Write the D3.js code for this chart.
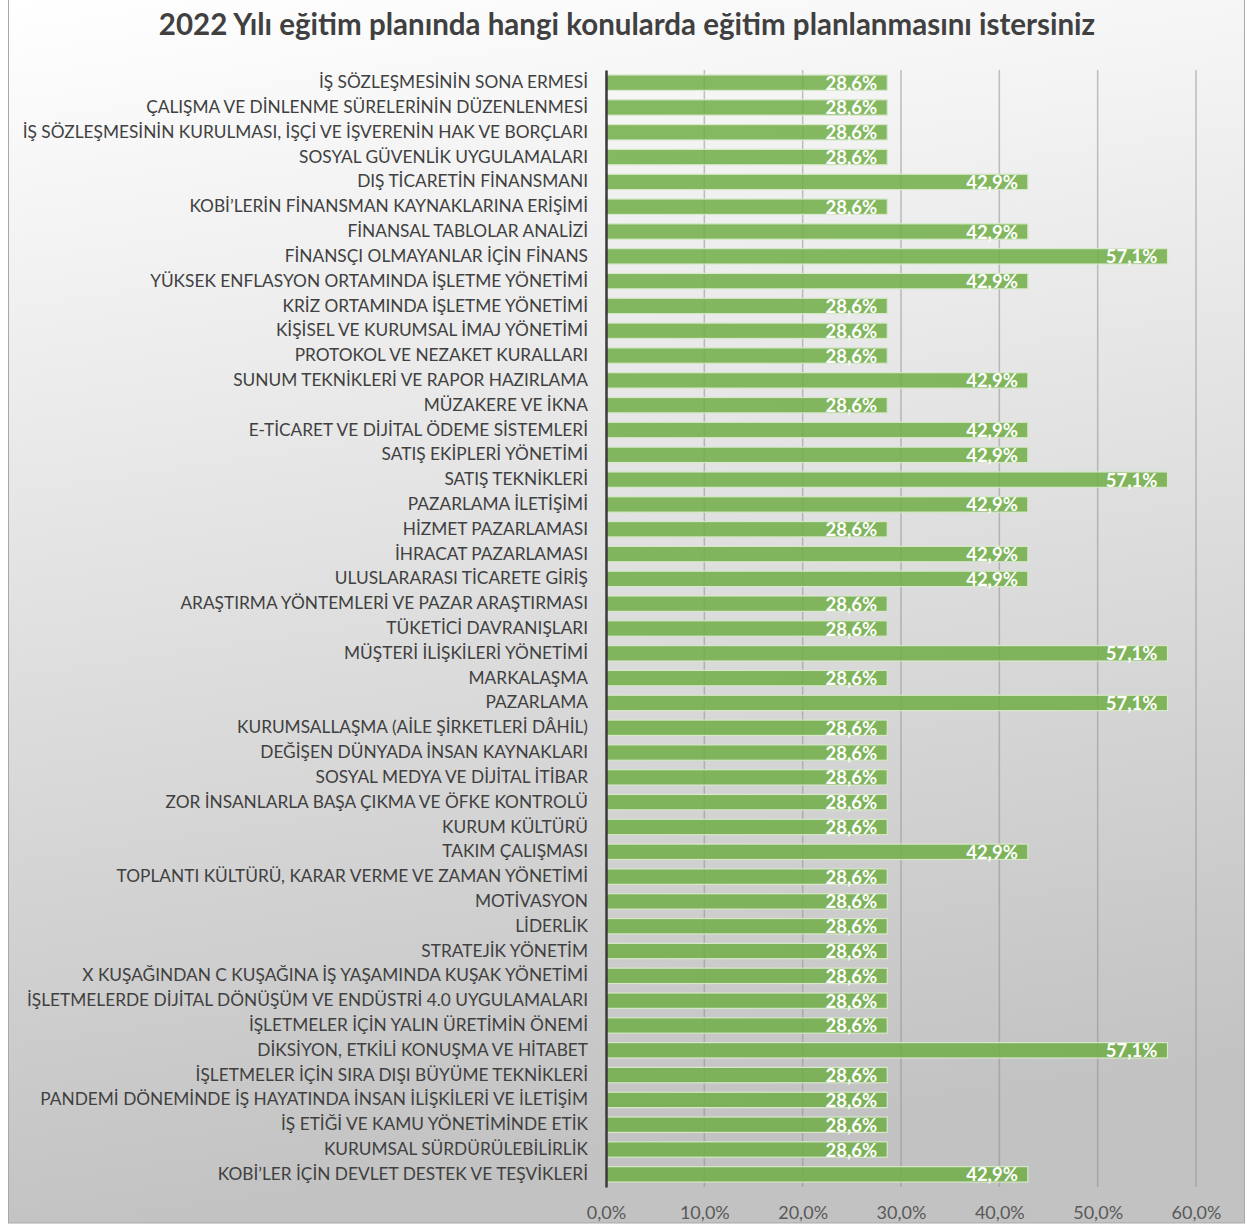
<!DOCTYPE html>
<html>
<head>
<meta charset="utf-8">
<script src="https://cdn.jsdelivr.net/npm/d3@7"></script>
<style>
  body { margin: 0; background: #ffffff; }
  svg text { font-family: Lato, "Open Sans", sans-serif; }
</style>
</head>
<body>
<div id="chart"></div>
<script>
// chart data
const chartTitle = "2022 Yılı eğitim planında hangi konularda eğitim planlanmasını istersiniz";

const categories = [
  "İŞ SÖZLEŞMESİNİN SONA ERMESİ",
  "ÇALIŞMA VE DİNLENME SÜRELERİNİN DÜZENLENMESİ",
  "İŞ SÖZLEŞMESİNİN KURULMASI, İŞÇİ VE İŞVERENİN HAK VE BORÇLARI",
  "SOSYAL GÜVENLİK UYGULAMALARI",
  "DIŞ TİCARETİN FİNANSMANI",
  "KOBİ’LERİN FİNANSMAN KAYNAKLARINA ERİŞİMİ",
  "FİNANSAL TABLOLAR ANALİZİ",
  "FİNANSÇI OLMAYANLAR İÇİN FİNANS",
  "YÜKSEK ENFLASYON ORTAMINDA İŞLETME YÖNETİMİ",
  "KRİZ ORTAMINDA İŞLETME YÖNETİMİ",
  "KİŞİSEL VE KURUMSAL İMAJ YÖNETİMİ",
  "PROTOKOL VE NEZAKET KURALLARI",
  "SUNUM TEKNİKLERİ VE RAPOR HAZIRLAMA",
  "MÜZAKERE VE İKNA",
  "E-TİCARET VE DİJİTAL ÖDEME SİSTEMLERİ",
  "SATIŞ EKİPLERİ YÖNETİMİ",
  "SATIŞ TEKNİKLERİ",
  "PAZARLAMA İLETİŞİMİ",
  "HİZMET PAZARLAMASI",
  "İHRACAT PAZARLAMASI",
  "ULUSLARARASI TİCARETE GİRİŞ",
  "ARAŞTIRMA YÖNTEMLERİ VE PAZAR ARAŞTIRMASI",
  "TÜKETİCİ DAVRANIŞLARI",
  "MÜŞTERİ İLİŞKİLERİ YÖNETİMİ",
  "MARKALAŞMA",
  "PAZARLAMA",
  "KURUMSALLAŞMA (AİLE ŞİRKETLERİ DÂHİL)",
  "DEĞİŞEN DÜNYADA İNSAN KAYNAKLARI",
  "SOSYAL MEDYA VE DİJİTAL İTİBAR",
  "ZOR İNSANLARLA BAŞA ÇIKMA VE ÖFKE KONTROLÜ",
  "KURUM KÜLTÜRÜ",
  "TAKIM ÇALIŞMASI",
  "TOPLANTI KÜLTÜRÜ, KARAR VERME VE ZAMAN YÖNETİMİ",
  "MOTİVASYON",
  "LİDERLİK",
  "STRATEJİK YÖNETİM",
  "X KUŞAĞINDAN C KUŞAĞINA İŞ YAŞAMINDA KUŞAK YÖNETİMİ",
  "İŞLETMELERDE DİJİTAL DÖNÜŞÜM VE ENDÜSTRİ 4.0 UYGULAMALARI",
  "İŞLETMELER İÇİN YALIN ÜRETİMİN ÖNEMİ",
  "DİKSİYON, ETKİLİ KONUŞMA VE HİTABET",
  "İŞLETMELER İÇİN SIRA DIŞI BÜYÜME TEKNİKLERİ",
  "PANDEMİ DÖNEMİNDE İŞ HAYATINDA İNSAN İLİŞKİLERİ VE İLETİŞİM",
  "İŞ ETİĞİ VE KAMU YÖNETİMİNDE ETİK",
  "KURUMSAL SÜRDÜRÜLEBİLİRLİK",
  "KOBİ’LER İÇİN DEVLET DESTEK VE TEŞVİKLERİ"
];

const values = [
  28.6, 28.6, 28.6, 28.6, 42.9, 28.6, 42.9, 57.1, 42.9, 28.6,
  28.6, 28.6, 42.9, 28.6, 42.9, 42.9, 57.1, 42.9, 28.6, 42.9,
  42.9, 28.6, 28.6, 57.1, 28.6, 57.1, 28.6, 28.6, 28.6, 28.6,
  28.6, 42.9, 28.6, 28.6, 28.6, 28.6, 28.6, 28.6, 28.6, 57.1,
  28.6, 28.6, 28.6, 28.6, 42.9
];

const xTicks = [0, 10, 20, 30, 40, 50, 60];

const data = categories.map((c, i) => ({ name: c, value: values[i] }));

// size
const W = 1247, H = 1225;
const margin = { top: 70, right: 51, bottom: 38, left: 606 };

const svg = d3.select("#chart").append("svg")
    .attr("width", W)
    .attr("height", H);

// background gradient like the office chart area
const defs = svg.append("defs");
const grad = defs.append("linearGradient")
    .attr("id", "bg")
    .attr("x1", "0").attr("y1", "0")
    .attr("x2", "0.15").attr("y2", "1");
grad.append("stop").attr("offset", "0%").attr("stop-color", "#ffffff");
grad.append("stop").attr("offset", "100%").attr("stop-color", "#c2c2c2");

svg.append("rect")
    .attr("x", 8.5).attr("y", -1)
    .attr("width", 1236).attr("height", H - 1)
    .attr("fill", "url(#bg)")
    .attr("stroke", "#a8a8a8");

// title
svg.append("text")
    .attr("x", 627)
    .attr("y", 35)
    .attr("text-anchor", "middle")
    .style("font-size", "29.5px")
    .style("font-weight", "bold")
    .attr("fill", "#404040")
    .text(chartTitle);

const xScale = d3.scaleLinear()
    .domain([0, 60])
    .range([margin.left, W - margin.right]);

const yScale = d3.scaleBand()
    .domain(categories)
    .range([margin.top, H - margin.bottom])
    .paddingInner(0.38)
    .paddingOuter(0.2);

// gridlines
svg.append("g")
    .selectAll("line")
    .data(xTicks.slice(1))
    .enter()
    .append("line")
    .attr("x1", d => xScale(d))
    .attr("x2", d => xScale(d))
    .attr("y1", margin.top)
    .attr("y2", H - margin.bottom)
    .attr("stroke", "#8f8f8f")
    .attr("stroke-opacity", 0.55)
    .attr("stroke-width", 1.5);

// bars
svg.append("g")
    .selectAll("rect")
    .data(data)
    .enter()
    .append("rect")
    .attr("x", xScale(0))
    .attr("y", d => yScale(d.name))
    .attr("width", d => xScale(d.value) - xScale(0))
    .attr("height", yScale.bandwidth())
    .attr("fill", "#70ad47")
    .attr("fill-opacity", 0.85)
    .attr("stroke", "#d6e8c8")
    .attr("stroke-width", 1.2);

// value labels
svg.append("g")
    .selectAll("text")
    .data(data)
    .enter()
    .append("text")
    .attr("x", d => xScale(d.value) - 10)
    .attr("y", d => yScale(d.name) + yScale.bandwidth() / 2 + 7)
    .attr("text-anchor", "end")
    .style("font-size", "18.5px")
    .style("font-weight", "bold")
    .attr("fill", "#ffffff")
    .text(d => d.value.toFixed(1).replace(".", ",") + "%");

// y axis (category labels)
const yAxis = svg.append("g")
    .attr("transform", `translate(${margin.left},0)`)
    .call(d3.axisLeft(yScale).tickSize(0).tickPadding(18));
yAxis.select(".domain")
    .attr("stroke", "#3a3a3a")
    .attr("stroke-width", 2.5);
yAxis.selectAll("text")
    .style("font-size", "17.3px")
    .style("font-family", "Lato, 'Open Sans', sans-serif")
    .attr("fill", "#404040");

// x axis
const xAxis = svg.append("g")
    .attr("transform", `translate(0,${H - margin.bottom})`)
    .call(d3.axisBottom(xScale).tickValues(xTicks).tickSize(0).tickPadding(19)
        .tickFormat(d => d.toFixed(1).replace(".", ",") + "%"));
xAxis.select(".domain").remove();
xAxis.selectAll("text")
    .style("font-size", "18px")
    .style("font-family", "Lato, 'Open Sans', sans-serif")
    .attr("fill", "#595959");
</script>
</body>
</html>
